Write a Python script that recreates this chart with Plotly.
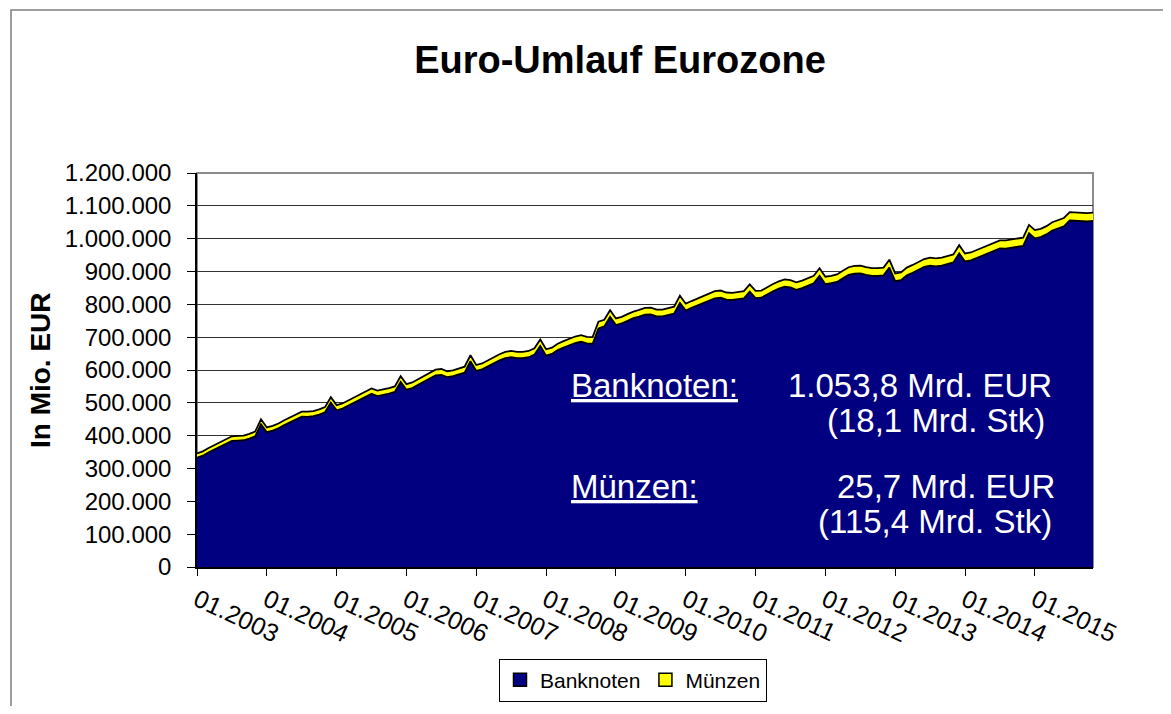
import plotly.graph_objects as go

# ---------------- data (Mio. EUR, end of month, 01.2003 - 11.2015) ----------------
years = list(range(2003, 2016))
months = [f"{m:02d}.{y}" for y in years for m in range(1, 13)][:155]

banknoten = [
    # 2003
    333000, 339000, 349000, 358000, 366000, 376000, 384000, 385000, 386000, 391000, 398000, 435000,
    # 2004
    410500, 415500, 422300, 432200, 441000, 449800, 457600, 457500, 459500, 464400, 471300, 501000,
    # 2005
    477300, 482300, 491100, 500000, 508800, 519600, 527400, 520300, 523300, 528200, 533100, 563800,
    # 2006
    540100, 545100, 554900, 564800, 572600, 583400, 585200, 578100, 581100, 586000, 591900, 626600,
    # 2007
    597000, 602000, 611800, 621700, 629500, 636300, 639100, 636000, 636000, 638900, 646800, 673500,
    # 2008
    643900, 648900, 660700, 668600, 675400, 682200, 686000, 680900, 679900, 726800, 732700, 761500,
    # 2009
    736900, 741900, 749800, 757700, 762500, 768400, 769200, 763100, 763100, 768000, 771900, 804600,
    # 2010
    781000, 789000, 796900, 804800, 812600, 818500, 820300, 814200, 813200, 815100, 818000, 838800,
    # 2011
    819100, 820100, 831000, 839900, 847700, 853600, 851400, 844300, 849300, 857200, 864100, 886900,
    # 2012
    861200, 864200, 868100, 879000, 889800, 893700, 894500, 889400, 886400, 886300, 888200, 912000,
    # 2013
    870400, 873400, 888300, 896200, 906000, 913900, 917700, 915600, 917600, 921600, 927500, 955300,
    # 2014
    930700, 933700, 940600, 947500, 955300, 963200, 970000, 969900, 971900, 974800, 977800, 1016600,
    # 2015
    1001000, 1005000, 1012900, 1024800, 1031700, 1037600, 1055400, 1054300, 1053300, 1052300, 1053800,
]

muenzen = [
    13100, 13200, 13400, 13500, 13700, 13900, 14100, 14300, 14300, 14400, 14500, 14800,
    14500, 14500, 14700, 14800, 15000, 15200, 15400, 15500, 15500, 15600, 15700, 16000,
    15700, 15700, 15900, 16000, 16200, 16400, 16600, 16700, 16700, 16800, 16900, 17200,
    16900, 16900, 17100, 17200, 17400, 17600, 17800, 17900, 17900, 18000, 18100, 18400,
    18000, 18000, 18200, 18300, 18500, 18700, 18900, 19000, 19000, 19100, 19200, 19500,
    19100, 19100, 19300, 19400, 19600, 19800, 20000, 20100, 20100, 20200, 20300, 20500,
    20100, 20100, 20200, 20300, 20500, 20600, 20800, 20900, 20900, 21000, 21100, 21400,
    21000, 21000, 21100, 21200, 21400, 21500, 21700, 21800, 21800, 21900, 22000, 22200,
    21900, 21900, 22000, 22100, 22300, 22400, 22600, 22700, 22700, 22800, 22900, 23100,
    22800, 22800, 22900, 23000, 23200, 23300, 23500, 23600, 23600, 23700, 23800, 24000,
    23600, 23600, 23700, 23800, 24000, 24100, 24300, 24400, 24400, 24400, 24500, 24700,
    24300, 24300, 24400, 24500, 24700, 24800, 25000, 25100, 25100, 25200, 25200, 25400,
    25000, 25000, 25100, 25200, 25300, 25400, 25600, 25700, 25700, 25700, 25700,
]

tick_labels = [f"01.{y}" for y in years]
y_ticks = list(range(0, 1200001, 100000))

info_lines = [
    ("<u>Banknoten:</u>", "left"),
    ("1.053,8 Mrd. EUR", "right"),
    ("(18,1 Mrd. Stk)", "right"),
    ("<u>Münzen:</u>", "left"),
    ("25,7 Mrd. EUR", "right"),
    ("(115,4 Mrd. Stk)", "right"),
]

# ---------------- layout geometry (page pixels) ----------------
OFF = 8                      # body margin of the html page
PAGE_W, PAGE_H = 1171, 714
W, H = PAGE_W - 2 * OFF, PAGE_H - 2 * OFF
PL, PR, PT, PB = 197, 1093, 173, 567
pw, ph = PR - PL, PB - PT


def px_x(x):
    return (x - PL) / pw


def px_y(y):
    return (PB - y) / ph


def cx(x):
    return (x - OFF) / W


def cy(y):
    return 1 - (y - OFF) / H


FONT = "Liberation Sans, Arial, sans-serif"
NAVY = "#000080"
YELLOW = "#FFFF00"

fig = go.Figure()
fig.add_trace(go.Scatter(
    x=months, y=banknoten, name="Banknoten", stackgroup="one", mode="lines",
    line=dict(color="black", width=1.8), fillcolor=NAVY, showlegend=False,
    hoverinfo="x+y"))
fig.add_trace(go.Scatter(
    x=months, y=muenzen, name="Münzen", stackgroup="one", mode="lines",
    line=dict(color="black", width=1.8), fillcolor=YELLOW, showlegend=False,
    hoverinfo="x+y"))
# legend entries (square swatches)
fig.add_trace(go.Scatter(
    x=[None], y=[None], name="Banknoten", mode="markers",
    marker=dict(symbol="square", size=13, color=NAVY, line=dict(color="black", width=1.5))))
fig.add_trace(go.Scatter(
    x=[None], y=[None], name="Münzen", mode="markers",
    marker=dict(symbol="square", size=13, color=YELLOW, line=dict(color="black", width=1.5))))

annotations = []
pos = [
    (570, 385), (1053, 385), (1046, 420), (570, 486), (1056, 486), (1053, 521),
]
for (txt, align), (x, y) in zip(info_lines, pos):
    annotations.append(dict(
        text=txt, xref="paper", yref="paper", x=px_x(x), y=px_y(y),
        xanchor=align, yanchor="middle", showarrow=False, borderpad=0,
        font=dict(family=FONT, size=33, color="white")))

annotations.append(dict(
    text="<b>In Mio. EUR</b>", xref="paper", yref="paper",
    x=px_x(40), y=px_y(370), xanchor="center", yanchor="middle",
    textangle=-90, showarrow=False, font=dict(family=FONT, size=28, color="black")))

shapes = [
    # outer chart frame
    dict(type="rect", xref="paper", yref="paper",
         x0=px_x(11), x1=px_x(1200), y0=px_y(740), y1=px_y(10),
         line=dict(color="#7f7f7f", width=1.5), fillcolor="rgba(0,0,0,0)", layer="below"),
    # plot area border
    dict(type="rect", xref="paper", yref="paper", x0=0, x1=1, y0=0, y1=1,
         line=dict(color="#8c8c8c", width=2), fillcolor="rgba(0,0,0,0)", layer="below"),
]

fig.update_layout(
    width=W, height=H, autosize=False,
    margin=dict(l=PL - OFF, r=W - (PR - OFF), t=PT - OFF, b=H - (PB - OFF)),
    paper_bgcolor="white", plot_bgcolor="white",
    separators=",.",
    font=dict(family=FONT, color="black"),
    title=dict(text="<b>Euro-Umlauf Eurozone</b>", x=cx(620), xanchor="center",
               y=cy(60), yanchor="middle",
               font=dict(family=FONT, size=38, color="black")),
    xaxis=dict(
        type="category", range=[0, len(months) - 1], automargin=False,
        tickmode="array", tickvals=tick_labels, ticktext=tick_labels,
        tickangle=25, ticks="outside", ticklen=7, tickcolor="black", tickwidth=1,
        showline=True, linecolor="black", linewidth=1.5, showgrid=False,
        tickfont=dict(family=FONT, size=25, color="black"), fixedrange=True),
    yaxis=dict(
        range=[0, 1200000], tickmode="array", tickvals=y_ticks, tickformat=",d",
        automargin=False,
        ticks="outside", ticklen=8, tickcolor="black", tickwidth=1,
        showline=True, linecolor="black", linewidth=1.5,
        showgrid=True, gridcolor="#333333", gridwidth=1, zeroline=False,
        tickfont=dict(family=FONT, size=24, color="black"), ticklabelstandoff=11,
        fixedrange=True),
    legend=dict(
        orientation="h", traceorder="normal",
        xref="container", yref="container",
        x=cx(633), xanchor="center", y=cy(680), yanchor="middle",
        bordercolor="black", borderwidth=1, bgcolor="white",
        font=dict(family=FONT, size=21, color="black"), itemwidth=30,
        tracegroupgap=0),
    annotations=annotations,
    shapes=shapes,
    showlegend=True,
)

fig.write_html("out.html")
